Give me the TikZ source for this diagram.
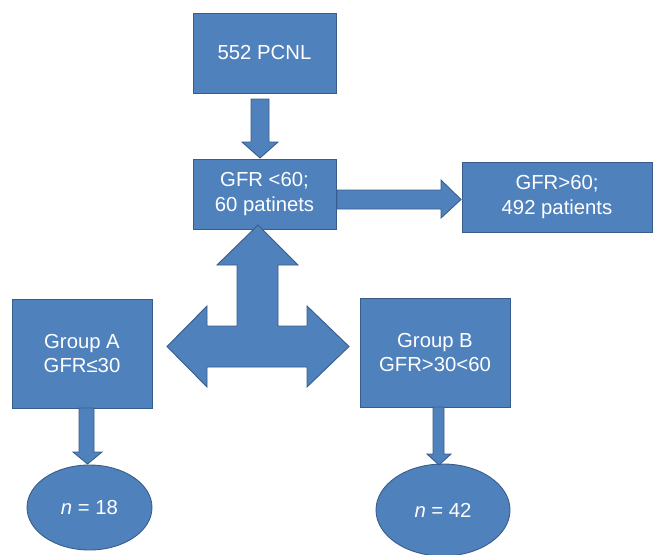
\documentclass[tikz,border=0pt]{standalone}
\usepackage{fontspec}
\setmainfont{Liberation Sans}
\usetikzlibrary{shapes.geometric}
\definecolor{boxfill}{HTML}{4F81BD}
\definecolor{boxline}{HTML}{385D8A}
\tikzset{
  blk/.style={fill=boxfill, draw=boxline, line width=0.9pt},
  box/.style={blk, rectangle, inner sep=0pt, text=white, align=center,
    font=\fontsize{20.3}{24.7}\selectfont},
  oval/.style={blk, ellipse, inner sep=0pt, text=white, align=center,
    font=\fontsize{20.3}{24.7}\selectfont},
  barrow/.style={blk, line join=miter}
}
\begin{document}
\begin{tikzpicture}[x=1pt,y=-1pt]
\useasboundingbox (0,0) rectangle (653,554);
% boxes
\node[box, minimum width=143pt, minimum height=80pt] (pcnl) at (264.5,53) {552 PCNL};
\node[box, minimum width=143pt, minimum height=70pt] (low) at (264.5,194) {GFR <60;\\60 patinets};
\node[box, minimum width=190pt, minimum height=70pt] (high) at (557,197) {GFR>60;\\492 patients};
\node[box, minimum width=140pt, minimum height=109pt] (ga) at (82,353.5) {Group A\\GFR≤30};
\node[box, minimum width=150pt, minimum height=109pt] (gb) at (435,352.5) {Group B\\GFR>30<60};
\node[oval, minimum width=125pt, minimum height=85pt] (na) at (89.5,507.5) {\textit{n} = 18};
\node[oval, minimum width=134pt, minimum height=92pt] (nb) at (443,510) {\textit{n} = 42};
% down arrow pcnl -> low
\draw[barrow] (251,99) -- (269,99) -- (269,142) -- (278,142) -- (260,158) -- (242,142) -- (251,142) -- cycle;
% right arrow low -> high
\draw[barrow] (337,190) -- (441,190) -- (441,180) -- (461,199.5) -- (441,218) -- (441,209) -- (337,209) -- cycle;
% three-way arrow
\draw[barrow] (258,225) -- (298,265) -- (278,265) -- (278,326) -- (307,326) -- (307,306)
  -- (349,346.5) -- (307,387) -- (307,367) -- (207,367) -- (207,387) -- (167,346.5)
  -- (207,306) -- (207,326) -- (237,326) -- (237,265) -- (217,265) -- cycle;
% down arrow A
\draw[barrow] (79,408) -- (94,408) -- (94,452) -- (102,452) -- (87.5,464) -- (73,452) -- (79,452) -- cycle;
% down arrow B
\draw[barrow] (433,407) -- (444,407) -- (444,454) -- (451,454) -- (439,465) -- (427,454) -- (433,454) -- cycle;
\end{tikzpicture}
\end{document}
